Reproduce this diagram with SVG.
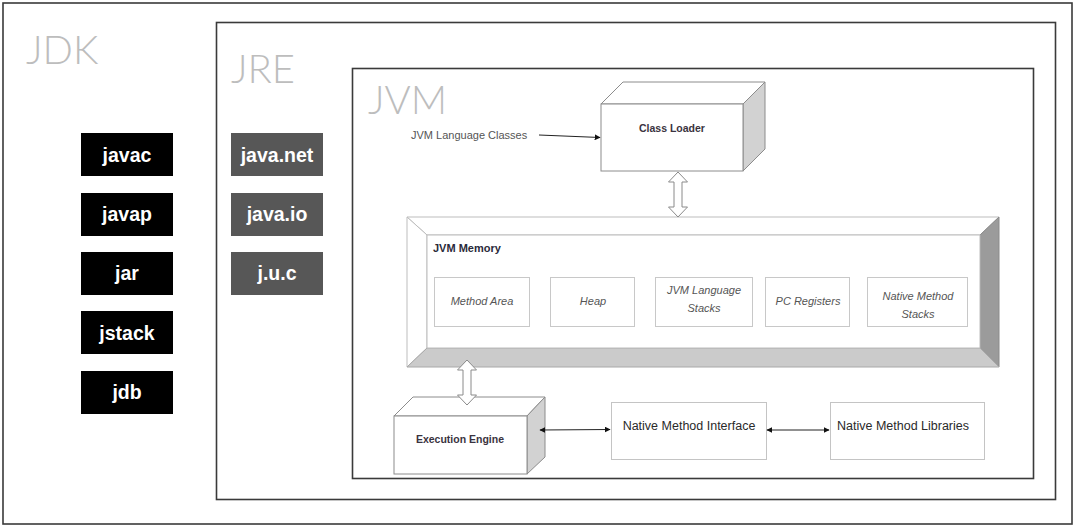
<svg xmlns="http://www.w3.org/2000/svg" width="1075" height="527" viewBox="0 0 1075 527">
<style>
.frame{fill:none;stroke:#3a3a3a;stroke-width:1.6}
.big{font-family:Lato,"Open Sans","Liberation Sans",sans-serif;font-weight:300;font-size:40px;fill:#bdbdbd}
.tool{fill:#000}
.lib{fill:#575757}
.tt{font-family:"Liberation Sans",Arial,sans-serif;font-weight:bold;font-size:19.5px;fill:#fff;text-anchor:middle}
.box{fill:#fff;stroke:#8c8c8c;stroke-width:1}
.side{fill:#d2d2d2;stroke:#8c8c8c;stroke-width:1}
.lbl{font-family:"Liberation Sans",Arial,sans-serif;font-weight:bold;font-size:10.5px;fill:#3a3340;text-anchor:middle}
.nlbl{font-family:"Liberation Sans",Arial,sans-serif;font-size:12.5px;fill:#2a2a2a;text-anchor:middle}
.area{fill:#fff;stroke:#c8c8c8;stroke-width:1}
.it{font-family:"Liberation Sans",Arial,sans-serif;font-style:italic;font-size:11px;fill:#555;text-anchor:middle}
.nb{fill:#fff;stroke:#c4c4c4;stroke-width:1}
.line{stroke:#222;stroke-width:1;fill:none}
.hollow{fill:#fff;stroke:#8a8a8a;stroke-width:1}
</style>
<defs>
<marker id="ah" viewBox="0 0 10 10" refX="9" refY="5" markerWidth="6" markerHeight="6" orient="auto-start-reverse" markerUnits="userSpaceOnUse">
<path d="M0,0 L10,5 L0,10 Z" fill="#111"/>
</marker>
</defs>
<rect x="0" y="0" width="1075" height="527" fill="#fff"/>
<g id="jdk">
<rect class="frame" x="3" y="3" width="1069" height="521"/>
<text class="big" x="26" y="64">JDK</text>
</g>
<g id="jre">
<rect class="frame" x="216.5" y="22.5" width="839" height="477" stroke-width="2"/>
<text class="big" x="231" y="83">JRE</text>
</g>
<g id="jvm">
<rect class="frame" x="352.5" y="68.5" width="681" height="410" stroke-width="2"/>
<text class="big" x="368" y="114">JVM</text>
</g>
<g id="tool-javac"><rect class="tool" x="81" y="133" width="92" height="43"/><text class="tt" x="127" y="162">javac</text></g>
<g id="tool-javap"><rect class="tool" x="81" y="193" width="92" height="43"/><text class="tt" x="127" y="221">javap</text></g>
<g id="tool-jar"><rect class="tool" x="81" y="252" width="92" height="43"/><text class="tt" x="127" y="280">jar</text></g>
<g id="tool-jstack"><rect class="tool" x="81" y="311" width="92" height="43"/><text class="tt" x="127" y="340">jstack</text></g>
<g id="tool-jdb"><rect class="tool" x="81" y="371" width="92" height="43"/><text class="tt" x="127" y="399">jdb</text></g>
<g id="lib-net"><rect class="lib" x="231" y="133" width="92" height="43"/><text class="tt" x="277" y="162">java.net</text></g>
<g id="lib-io"><rect class="lib" x="231" y="193" width="92" height="43"/><text class="tt" x="277" y="221">java.io</text></g>
<g id="lib-juc"><rect class="lib" x="231" y="252" width="92" height="43"/><text class="tt" x="277" y="280">j.u.c</text></g>
<g id="jvm-language-classes">
<text font-family="Liberation Sans, Arial, sans-serif" font-size="11" fill="#555" x="411" y="139">JVM Language Classes</text>
</g>
<g id="class-loader">
<polygon class="box" points="601,104 623,82 765,82 743,104"/>
<polygon class="side" points="743,104 765,82 765,149 743,171"/>
<rect class="box" x="601" y="104" width="142" height="67"/>
<text class="lbl" x="672" y="132">Class Loader</text>
</g>
<g id="jvm-memory">
<polygon points="407,217 999,217 980,235 427,235" fill="#fff" stroke="#bdbdbd"/>
<polygon points="407,217 427,235 427,348 407,367" fill="#fff" stroke="#bdbdbd"/>
<polygon points="999,217 999,367 980,348 980,235" fill="#9b9b9b" stroke="#8a8a8a"/>
<polygon points="407,367 427,348 980,348 999,367" fill="#cbcbcb" stroke="#a8a8a8"/>
<rect x="427" y="235" width="553" height="113" fill="#fff" stroke="#bdbdbd"/>
<text font-family="Liberation Sans, Arial, sans-serif" font-weight="bold" font-size="11" fill="#2a2a3a" x="433" y="252">JVM Memory</text>
</g>
<g id="method-area"><rect class="area" x="434.5" y="277.5" width="95" height="49"/><text class="it" x="482" y="305">Method Area</text></g>
<g id="heap"><rect class="area" x="550.5" y="277.5" width="84" height="49"/><text class="it" x="593" y="305">Heap</text></g>
<g id="jvm-language-stacks"><rect class="area" x="655.5" y="277.5" width="97" height="49"/><text class="it" x="704" y="294">JVM Language</text><text class="it" x="704" y="312">Stacks</text></g>
<g id="pc-registers"><rect class="area" x="765.5" y="277.5" width="84" height="49"/><text class="it" x="808" y="305">PC Registers</text></g>
<g id="native-method-stacks"><rect class="area" x="867.5" y="277.5" width="100" height="49"/><text class="it" x="918" y="300">Native Method</text><text class="it" x="918" y="318">Stacks</text></g>
<g id="execution-engine">
<polygon class="box" points="394,416 413,397 545,397 527,416"/>
<polygon class="side" points="527,416 545,397 545,457 527,474"/>
<rect class="box" x="394" y="416" width="133" height="58"/>
<text class="lbl" x="460" y="443">Execution Engine</text>
</g>
<g id="native-method-interface">
<rect class="nb" x="611.5" y="402.5" width="155" height="57"/>
<text class="nlbl" x="689" y="430">Native Method Interface</text>
</g>
<g id="native-method-libraries">
<rect class="nb" x="830.5" y="402.5" width="154" height="57"/>
<text class="nlbl" x="903" y="430">Native Method Libraries</text>
</g>
<g id="connectors">
<line class="line" x1="539" y1="135" x2="600" y2="137.5" marker-end="url(#ah)"/>
<path class="hollow" d="M678,172 L687.5,182 L682,182 L682,207 L687.5,207 L678,217 L668.5,207 L674,207 L674,182 L668.5,182 Z"/>
<path class="hollow" d="M467,360 L476.5,370 L471,370 L471,395 L476.5,395 L467,405 L457.5,395 L463,395 L463,370 L457.5,370 Z"/>
<line class="line" x1="540" y1="430" x2="610" y2="429.5" marker-start="url(#ah)" marker-end="url(#ah)"/>
<line class="line" x1="767" y1="430" x2="829" y2="430" stroke-width="1.6" stroke="#333" marker-start="url(#ah)" marker-end="url(#ah)"/>
</g>
</svg>
